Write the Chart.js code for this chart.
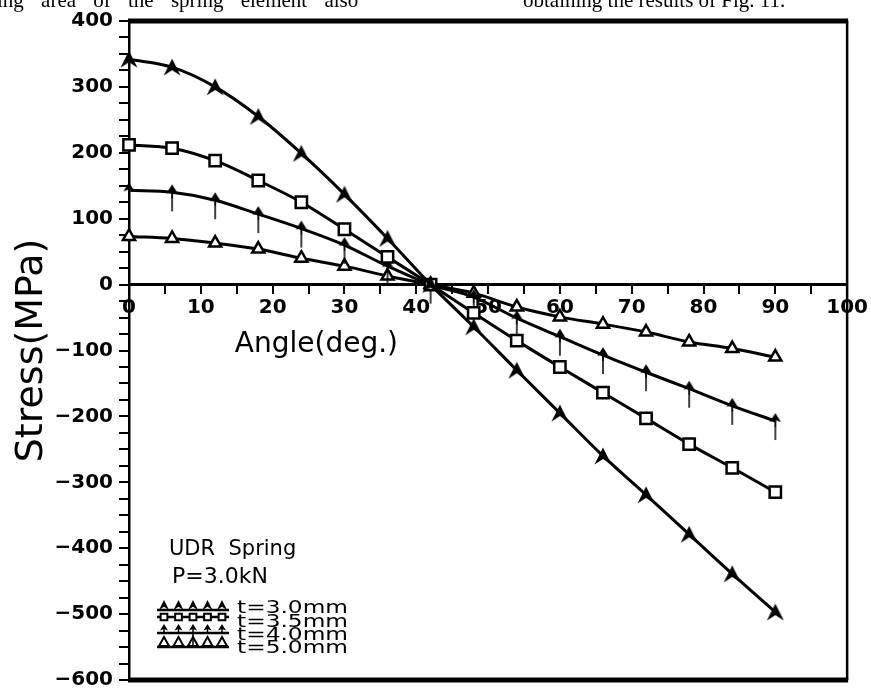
<!DOCTYPE html>
<html>
<head>
<meta charset="utf-8">
<title>Stress vs Angle</title>
<script src="https://cdn.jsdelivr.net/npm/chart.js@4"></script>
<style>
html, body { margin: 0; padding: 0; background: #fff; overflow: hidden; }
#wrap { position: relative; width: 871px; height: 698px; }
#stressChart { position: absolute; left: 0; top: 0; }
.cut { position: absolute; top: -12px; font: 21px "Liberation Serif", serif; color: #000; white-space: nowrap; z-index: 2; }
</style>
</head>
<body>
<div id="wrap">
  <canvas id="stressChart" width="871" height="698"></canvas>
  <div class="cut" style="left:-3px; word-spacing:12px">ing area of the spring element also</div>
  <div class="cut" style="left:523px">obtaining the results of Fig. 11.</div>
</div>
<script>
"use strict";
// 応力-角度 (UDR Spring, P=3.0kN)
var angles = [0, 6, 12, 18, 24, 30, 36, 42, 48, 54, 60, 66, 72, 78, 84, 90];
var stress30 = [342, 330, 300, 255, 199, 137, 70, 0, -64, -130, -195, -260, -319, -379, -439, -497];
var stress35 = [212, 207, 188, 158, 125, 84, 42, 0, -43, -85, -125, -164, -203, -242, -278, -315];
var stress40 = [143, 140, 128, 107, 85, 60, 28, 0, -19, -51, -79, -107, -133, -158, -184, -207];
var stress50 = [73, 70, 63, 54, 40, 28, 13, 0, -13, -34, -49, -60, -72, -87, -97, -110];
var seriesNames = ["t=3.0mm", "t=3.5mm", "t=4.0mm", "t=5.0mm"];
var xTicks = [0, 10, 20, 30, 40, 50, 60, 70, 80, 90, 100];
var yTicks = [400, 300, 200, 100, 0, -100, -200, -300, -400, -500, -600];

var FONT = "'DejaVu Sans', sans-serif";

function drawMark(c, kind, x, y, s) {
    c.fillStyle = "#000";
    c.strokeStyle = "#000";
    c.lineWidth = 2;
    c.beginPath();
    if (kind === "chevron") {
        c.moveTo(x, y - s / 2);
        c.lineTo(x + s / 2, y + s / 2);
        c.lineTo(x, y + s * 0.18);
        c.lineTo(x - s / 2, y + s / 2);
        c.closePath();
        c.fill();
    } else if (kind === "square") {
        var h = s * 0.42;
        c.fillStyle = "#fff";
        c.rect(x - h, y - h, 2 * h, 2 * h);
        c.fill();
        c.stroke();
    } else if (kind === "arrow") {
        c.moveTo(x, y - s / 2);
        c.lineTo(x + s * 0.4, y + s * 0.15);
        c.lineTo(x, y);
        c.lineTo(x - s * 0.4, y + s * 0.15);
        c.closePath();
        c.fill();
        c.beginPath();
        c.lineWidth = 1.5;
        c.moveTo(x, y - s * 0.2);
        c.lineTo(x, y + s / 2);
        c.stroke();
    } else if (kind === "triangle") {
        c.fillStyle = "#fff";
        c.moveTo(x, y - s / 2);
        c.lineTo(x + s / 2, y + s * 0.4);
        c.lineTo(x - s / 2, y + s * 0.4);
        c.closePath();
        c.fill();
        c.stroke();
        c.beginPath();
        c.lineWidth = 2.5;
        c.moveTo(x - s * 0.6, y + s * 0.45);
        c.lineTo(x + s * 0.6, y + s * 0.45);
        c.stroke();
    }
}

// マーカー画像
var chevronImg = document.createElement("canvas");
chevronImg.width = 20; chevronImg.height = 20;
drawMark(chevronImg.getContext("2d"), "chevron", 10, 10, 17);

var arrowImg = document.createElement("canvas");
arrowImg.width = 16; arrowImg.height = 46;
(function () {
    var c = arrowImg.getContext("2d");
    drawMark(c, "arrow", 8, 22, 14);
    c.beginPath();
    c.lineWidth = 1.5;
    c.moveTo(8, 23);
    c.lineTo(8, 42);
    c.stroke();
})();

var notes = {
    id: "notes",
    afterDraw: function (chart) {
        var ctx = chart.ctx;
        var a = chart.chartArea;
        var xs = chart.scales.x, ys = chart.scales.y;
        ctx.save();
        ctx.strokeStyle = "#000";
        ctx.lineCap = "butt";
        ctx.lineWidth = 5;
        ctx.beginPath();
        ctx.moveTo(a.left - 1, a.top);
        ctx.lineTo(a.right + 1, a.top);
        ctx.moveTo(a.left - 1, a.bottom);
        ctx.lineTo(a.right + 1, a.bottom);
        ctx.stroke();
        ctx.lineWidth = 2.5;
        ctx.beginPath();
        ctx.moveTo(a.right, a.top);
        ctx.lineTo(a.right, a.bottom);
        ctx.stroke();

        ctx.fillStyle = "#000";
        ctx.textBaseline = "alphabetic";
        ctx.textAlign = "center";
        ctx.font = "28px " + FONT;
        ctx.fillText("Angle(deg.)", xs.getPixelForValue(26.1), ys.getPixelForValue(-103));

        ctx.textAlign = "left";
        ctx.font = "21px " + FONT;
        ctx.fillText("UDR  Spring", a.left + 40, 555);
        ctx.font = "22px " + FONT;
        ctx.fillText("P=3.0kN", a.left + 43, 583);

        // 凡例
        var kinds = ["chevron", "square", "arrow", "triangle"];
        var rows = [609, 617, 632, 646];
        var base = [613, 626.5, 640, 653];
        var x0 = 157, x1 = 229;
        for (var i = 0; i < kinds.length; i++) {
            ctx.strokeStyle = "#000";
            ctx.lineWidth = 2.5;
            ctx.beginPath();
            var ly = kinds[i] === "square" ? rows[i] : rows[i] + 1;
            ctx.moveTo(x0, ly);
            ctx.lineTo(x1, ly);
            ctx.stroke();
            for (var k = 0; k < 5; k++) {
                var mx = x0 + 7 + k * 14.5;
                if (kinds[i] === "chevron") drawMark(ctx, "chevron", mx, rows[i] - 4, 10);
                else if (kinds[i] === "square") drawMark(ctx, "square", mx, rows[i], 8);
                else if (kinds[i] === "arrow") drawMark(ctx, "arrow", mx, rows[i] - 3, 10);
                else drawMark(ctx, "triangle", mx, rows[i] - 4, 10);
            }
            ctx.save();
            ctx.fillStyle = "#000";
            ctx.font = "17px " + FONT;
            ctx.translate(237, base[i]);
            ctx.scale(1.37, 1);
            ctx.fillText(seriesNames[i], 0, 0);
            ctx.restore();
        }
        ctx.lineWidth = 1.5;
        ctx.beginPath();
        ctx.moveTo(x0 + 7 + 2 * 14.5, rows[2]);
        ctx.lineTo(x0 + 7 + 2 * 14.5, rows[3] + 1);
        ctx.stroke();
        ctx.restore();
    }
};

function series(values, style, radius) {
    return {
        label: "",
        data: values.map(function (v, i) { return { x: angles[i], y: v }; }),
        borderColor: "#000",
        backgroundColor: "#fff",
        borderWidth: 3,
        pointStyle: style,
        pointRadius: radius,
        pointBorderWidth: 2.5,
        pointBorderColor: "#000",
        pointBackgroundColor: "#fff",
        cubicInterpolationMode: "monotone",
        clip: false
    };
}

var ctx = document.getElementById("stressChart");
var stressChart = new Chart(ctx, {
    type: "line",
    data: {
        datasets: [
            series(stress30, chevronImg, 8),
            series(stress35, "rect", 8),
            series(stress40, arrowImg, 7),
            series(stress50, "triangle", 7)
        ]
    },
    options: {
        responsive: false,
        animation: false,
        events: [],
        layout: { padding: { top: 21, right: 21, bottom: 7, left: 0 } },
        plugins: { legend: { display: false }, tooltip: { enabled: false } },
        scales: {
            x: {
                type: "linear",
                position: { y: 0 },
                min: 0,
                max: 100,
                ticks: {
                    stepSize: 5,
                    autoSkip: false,
                    maxRotation: 0,
                    padding: 3,
                    color: "#000",
                    font: { family: FONT, size: 20, weight: "bold" },
                    callback: function (v) { return xTicks.indexOf(v) >= 0 ? String(v) : ""; }
                },
                grid: { drawOnChartArea: false, tickLength: 8, lineWidth: 2, color: "#000" },
                border: { display: true, width: 3, color: "#000" }
            },
            y: {
                type: "linear",
                position: "left",
                min: -600,
                max: 400,
                afterFit: function (scale) { scale.width = 129; },
                ticks: {
                    stepSize: 25,
                    autoSkip: false,
                    padding: 6,
                    color: "#000",
                    font: { family: FONT, size: 20, weight: "bold" },
                    callback: function (v) {
                        if (yTicks.indexOf(v) < 0) return "";
                        return v < 0 ? "\u2212" + Math.abs(v) : String(v);
                    }
                },
                grid: { drawOnChartArea: false, tickLength: 10, lineWidth: 2, color: "#000" },
                border: { display: true, width: 2.5, color: "#000" },
                title: {
                    display: true,
                    text: "Stress(MPa)",
                    color: "#000",
                    font: { family: FONT, size: 38, lineHeight: 1 },
                    padding: { top: 13, bottom: 0 }
                }
            }
        }
    },
    plugins: [notes]
});
</script>
</body>
</html>
